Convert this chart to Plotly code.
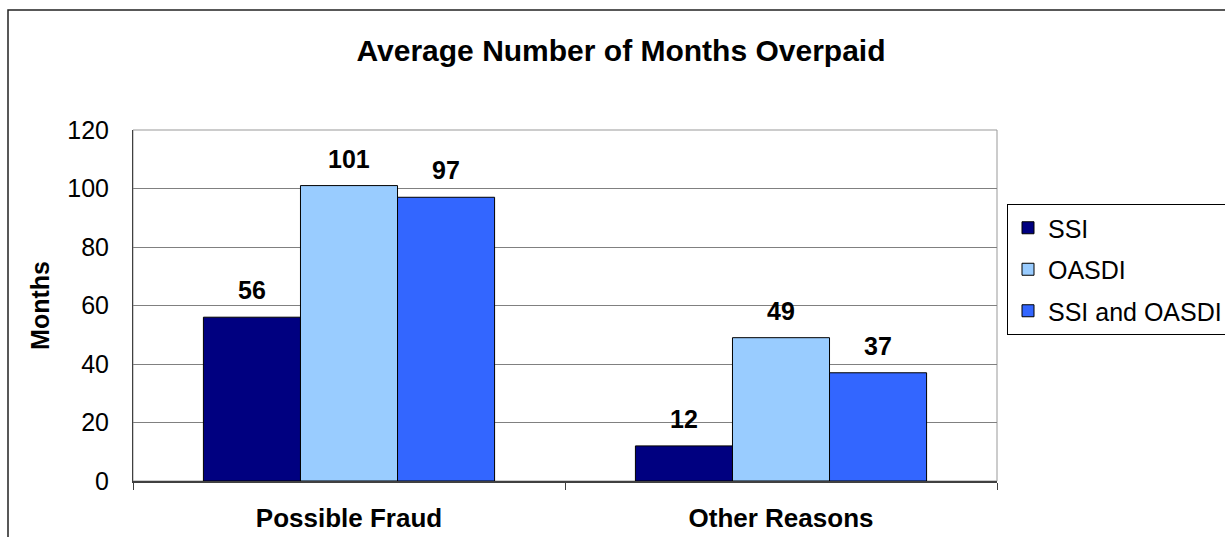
import plotly.graph_objects as go

categories = ["Possible Fraud", "Other Reasons"]
series_names = ["SSI", "OASDI", "SSI and OASDI"]
ssi = [56, 12]
oasdi = [101, 49]
both = [97, 37]
series_values = [ssi, oasdi, both]
colors = ["#000080", "#99CCFF", "#3366FF"]
y_ticks = [0, 20, 40, 60, 80, 100, 120]

FONT = "Arial, Liberation Sans, sans-serif"
W, H = 1225, 537
# target screen positions of plot area
SL, SR, ST, SB = 133, 997, 130, 481
ML, MT = SL, ST
MR = W - SR
MB = H - SB
PW = SR - SL
PH = SB - ST


def px_x(sx):
    return (sx - SL) / PW


def px_y(sy):
    return (SB - sy) / PH


fig = go.Figure()
for name, vals, col in zip(series_names, series_values, colors):
    fig.add_trace(go.Bar(
        name=name, x=categories, y=vals,
        marker=dict(color=col, line=dict(color="#000000", width=1)),
        legendgroup=name,
    ))

# data labels above bars
bar_px = PW / len(categories) * (1 - 0.326) / 3
annotations = []
for i, vals in enumerate(series_values):
    for cat, v in zip(categories, vals):
        annotations.append(dict(
            x=cat, y=v, xref="x", yref="y", text=f"<b>{v}</b>", showarrow=False,
            xshift=(i - 1) * bar_px, yshift=27, yanchor="middle",
            font=dict(family=FONT, size=25, color="#000000"),
        ))

fig.update_layout(
    width=W, height=H,
    margin=dict(l=ML, r=MR, t=MT, b=MB, autoexpand=False),
    paper_bgcolor="white", plot_bgcolor="white",
    barmode="group", bargap=0.326, bargroupgap=0,
    font=dict(family=FONT, size=25, color="#000000"),
    title=dict(text="<b>Average Number of Months Overpaid</b>",
               x=621 / W, xanchor="center", xref="container",
               y=1 - 50 / H, yanchor="middle", yref="container",
               font=dict(family=FONT, size=30, color="#000000")),
    showlegend=True,
    legend=dict(x=px_x(1007), y=px_y(204), xanchor="left", yanchor="top",
                bordercolor="#000000", borderwidth=1, bgcolor="white",
                font=dict(family=FONT, size=25, color="#000000"),
                tracegroupgap=6, traceorder="grouped"),
    annotations=annotations,
    shapes=[
        dict(type="rect", xref="paper", yref="paper", x0=0, x1=1, y0=0, y1=1,
             line=dict(color="#999999", width=1), fillcolor="rgba(0,0,0,0)", layer="below"),
        dict(type="rect", xref="paper", yref="paper",
             x0=px_x(8), x1=1.6, y0=-0.5, y1=px_y(10),
             line=dict(color="#222222", width=1.5), fillcolor="rgba(0,0,0,0)"),
    ],
)

fig.update_yaxes(range=[0, 120], tickvals=y_ticks, showgrid=True, gridcolor="#808080", gridwidth=1,
                 showline=True, linecolor="#404040", linewidth=1, ticks="", zeroline=False,
                 ticklabelstandoff=18,
                 tickfont=dict(family=FONT, size=25, color="#000000"),
                 title=dict(text="<b>Months</b>", standoff=10,
                            font=dict(family=FONT, size=25, color="#000000")))
fig.update_xaxes(showline=True, linecolor="#404040", linewidth=1.5, ticks="outside",
                 tickson="boundaries", ticklen=7, tickcolor="#404040",
                 ticklabelstandoff=13,
                 tickfont=dict(family=FONT, size=26, color="#000000", weight="bold"))

fig.write_html("out.html", config={"displayModeBar": False},
               post_script="document.body.style.margin='0';document.body.style.overflow='hidden';")
